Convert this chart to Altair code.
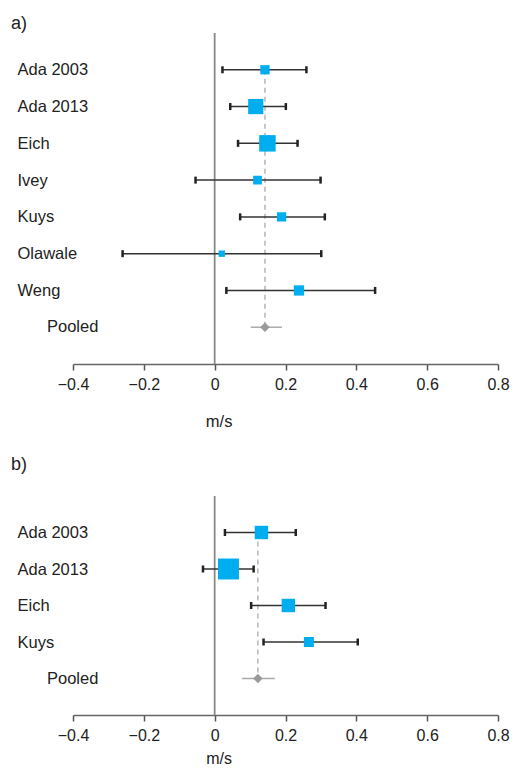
import altair as alt
import pandas as pd

# ---------------- data ----------------
studies_a = ["Ada 2003", "Ada 2013", "Eich", "Ivey", "Kuys", "Olawale", "Weng"]
est_a = [0.142, 0.116, 0.149, 0.121, 0.189, 0.020, 0.238]
lo_a = [0.022, 0.044, 0.066, -0.054, 0.072, -0.260, 0.033]
hi_a = [0.259, 0.201, 0.234, 0.299, 0.311, 0.301, 0.453]
weight_a = [9.6, 25.8, 30.3, 8.5, 9.6, 4.5, 11.8]
pooled_a = [0.142, 0.102, 0.190]  # estimate, lower, upper

studies_b = ["Ada 2003", "Ada 2013", "Eich", "Kuys"]
est_b = [0.132, 0.039, 0.208, 0.266]
lo_b = [0.029, -0.033, 0.103, 0.138]
hi_b = [0.229, 0.110, 0.313, 0.404]
weight_b = [20.0, 48.9, 20.0, 11.1]
pooled_b = [0.122, 0.077, 0.170]

x_ticks = [-0.4, -0.2, 0, 0.2, 0.4, 0.6, 0.8]

FONT = "Liberation Sans"
W = 425


def panel(label, studies, est, lo, hi, weight, pooled, height, box_area, title_y, title_size, head_offset):
    order = studies + ["Pooled"]
    df = pd.DataFrame({"study": studies, "est": est, "lo": lo, "hi": hi, "weight": weight})
    caps = pd.DataFrame({"study": studies * 2, "end": lo + hi})
    pdf = pd.DataFrame({"study": ["Pooled"], "est": [pooled[0]], "lo": [pooled[1]], "hi": [pooled[2]]})
    dash = pd.DataFrame({"est": [pooled[0]], "top": [studies[0]], "bottom": ["Pooled"]})
    zero = pd.DataFrame({"z": [0]})

    xscale = alt.Scale(domain=[-0.4, 0.8], nice=False, zero=False)
    yscale = alt.Scale(domain=order, type="point", padding=1.05)
    xaxis = alt.Axis(
        values=x_ticks,
        labelExpr="datum.value == 0 ? '0' : replace(format(datum.value, '.1f'), '-', '\u2013')",
        title="m/s", titleX=W / 3 + 4, titleY=title_y, titleAlign="center", titleBaseline="middle",
        titleFont=FONT, titleFontSize=title_size, titleFontWeight="normal", titleColor="#222",
        labelFont=FONT, labelFontSize=16, labelColor="#222", labelPadding=6,
        tickSize=6, tickColor="#555", tickWidth=1.5, domainColor="#666", domainWidth=1.5,
        grid=False, labelFlush=False,
    )
    yaxis = alt.Axis(
        title=None, domain=False, ticks=False, grid=False,
        labelAlign="left", labelPadding=56, labelFont=FONT, labelFontSize=16.5, labelColor="#222",
        labelExpr="datum.value == 'Pooled' ? '' : datum.value",
    )
    Y = lambda f: alt.Y(f, type="nominal", scale=yscale, axis=yaxis)

    zline = alt.Chart(zero).mark_rule(color="#888", strokeWidth=1.8).encode(
        x=alt.X("z:Q", scale=xscale, axis=xaxis)
    )
    dashed = alt.Chart(dash).mark_rule(color="#aaa", strokeDash=[5, 4], strokeWidth=1.3).encode(
        x=alt.X("est:Q", scale=xscale), y=Y("top"), y2="bottom"
    )
    bars = alt.Chart(df).mark_rule(color="#333", strokeWidth=1.5).encode(
        x=alt.X("lo:Q", scale=xscale), x2="hi", y=Y("study")
    )
    capmarks = alt.Chart(caps).mark_tick(color="#222", thickness=2.5, size=7, opacity=1).encode(
        x=alt.X("end:Q", scale=xscale), y=Y("study")
    )
    boxes = alt.Chart(df).mark_square(color="#00AEEF", opacity=1).encode(
        x=alt.X("est:Q", scale=xscale), y=Y("study"),
        size=alt.Size("weight:Q", scale=alt.Scale(domain=[0, 100], range=[0, box_area]), legend=None),
    )
    pbar = alt.Chart(pdf).mark_rule(color="#aaa", strokeWidth=1.5).encode(
        x=alt.X("lo:Q", scale=xscale), x2="hi", y=Y("study")
    )
    pdiamond = alt.Chart(pdf).mark_point(shape="diamond", filled=True, color="#999", size=90, opacity=1).encode(
        x=alt.X("est:Q", scale=xscale), y=Y("study")
    )
    plabel = alt.Chart(pdf).mark_text(
        align="left", baseline="middle", dx=-26, font=FONT, fontSize=16.5, color="#222"
    ).encode(x=alt.X(datum=-0.4, scale=xscale), y=Y("study"), text="study:N")
    return alt.layer(zline, dashed, bars, capmarks, boxes, pbar, pdiamond, plabel).properties(
        width=W, height=height,
        title=alt.Title(label, anchor="start", dx=-6, fontSize=18, fontWeight="normal", font=FONT,
                        color="#222", offset=head_offset),
    )


pa = panel("a)", studies_a, est_a, lo_a, hi_a, weight_a, pooled_a, 331, 897, 57, 16.5, -1)
pb = panel("b)", studies_b, est_b, lo_b, hi_b, weight_b, pooled_b, 219, 685, 43, 16, 21)

chart = alt.vconcat(pa, pb, spacing=26).configure_view(stroke=None).properties(
    padding={"left": 3, "top": 7, "right": 0, "bottom": 0}
)

chart.save("out.html", embed_options={"renderer": "svg", "actions": False})
